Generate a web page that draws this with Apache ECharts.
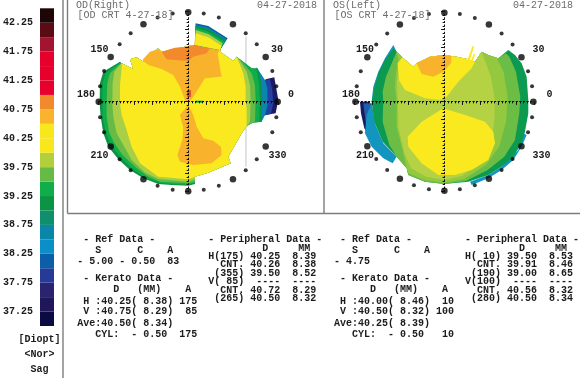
<!DOCTYPE html>
<html>
<head>
<meta charset="utf-8">
<style>html,body{margin:0;padding:0;background:#fff;overflow:hidden}#c{width:580px;height:378px;filter:blur(0.4px)}</style>
<script src="https://cdn.jsdelivr.net/npm/echarts@6/dist/echarts.min.js"></script>
</head>
<body>
<div id="c"></div>
<script>
// ---- colour scale (diopters, 0.25 per cell, bottom to top)
const scaleColors = ['#0b0a42','#201758','#2a2470','#263a98','#0a5fa8','#0a8fc8','#0a86a8','#0f8f6e','#0b9444','#0fae4b','#66bb46','#b2cf3c','#f8e71c','#f8e71c','#f9b32c','#f08a2c','#e8002d','#e8002d','#e8002d','#a3142e','#5c0a14','#1e0508'];
const scaleMin = 37, scaleStep = 0.25;

// ---- ring marks, degrees
const ringSmall = [10,20,40,50,70,80,100,110,130,140,160,170,190,200,220,230,250,260,280,290,310,320,340,350];
const ringBig = [0,30,60,90,120,150,180,210,240,270,300,330];

// ---- OD map contours [x, y]
const odTop = [[-200,115],[-165,98],[-175,127],[-155,133],[-135,120],[-92,160],[-78,150],[0,167],[20,170],[95,155],[100,147],[135,122],[145,135]];
const odLower = [[175,-73],[160,-95],[120,-165],[127,-185],[60,-213],[20,-225]];
const odNavy = [[232,67],[258,73],[263,45],[270,5],[262,-35],[230,-40],[220,5]];
const odBlue = [[230,65],[245,67],[252,35],[255,-5],[248,-37],[222,-43],[210,5]];
const odTeal = [[205,103],[230,65],[237,40],[238,-10],[230,-40],[220,-60],[205,-62],[190,5]];
const odDarkR = [[190,100],[208,100],[220,55],[222,5],[220,-60],[193,-63]];
const odDarkL = [[20,-247],[0,-252],[-50,-250],[-90,-247],[-135,-230],[-175,-205],[-210,-173],[-240,-135],[-255,-95],[-263,-45],[-266,-5],[-265,55],[-255,90],[-205,120]];
const odGreenR = [[190,100],[205,95],[212,55],[215,5],[213,-60],[193,-63]];
const odGreenL = [[20,-243],[0,-250],[-80,-245],[-130,-228],[-170,-200],[-205,-165],[-232,-130],[-248,-90],[-257,-45],[-258,-5],[-257,55],[-248,85],[-205,117]];
const odMidR = [[165,115],[190,85],[200,50],[202,5],[200,-60],[193,-63]];
const odMidL = [[20,-240],[0,-245],[-85,-240],[-125,-222],[-160,-195],[-197,-160],[-222,-125],[-238,-90],[-245,-45],[-245,-5],[-243,55],[-235,85],[-205,113]];
const odLightR = [[150,130],[175,90],[185,50],[187,5],[185,-60],[178,-70]];
const odLightL = [[20,-233],[0,-240],[-90,-232],[-130,-213],[-170,-175],[-195,-130],[-215,-95],[-225,-45],[-228,-5],[-227,55],[-222,90],[-205,110]];
const odYellowR = [[145,135],[165,85],[172,45],[172,5],[175,-20],[175,-70]];
const odYellowL = [[20,-225],[0,-233],[-90,-225],[-145,-185],[-170,-135],[-185,-85],[-200,-40],[-205,-5],[-205,50],[-200,100]];
const odFanArcs = [
  ['#0a5fa8',[[22,235],[60,227],[118,190]]],
  ['#0a86a8',[[22,231],[60,222],[115,187]]],
  ['#0b9444',[[22,227],[60,217],[112,183]]],
  ['#0fae4b',[[22,222],[60,210],[108,180]]],
  ['#a8cf45',[[22,215],[60,203],[103,175]]],
  ['#fbe91f',[[22,205],[60,193],[100,168]]]
];
const odOrangeTop = [[-138,125],[-115,150],[-90,158],[-80,148],[-40,160],[0,165],[18,170],[20,193],[70,180],[95,155],[88,145],[100,75],[95,75],[50,70],[15,15],[0,-5],[-10,5],[-25,45],[-45,80],[-80,98],[-120,110]];
const odOrangeDeep = [[-80,150],[-40,162],[0,165],[20,170],[20,185],[45,180],[65,160],[55,145],[15,135],[0,122],[-40,125],[-65,127]];
const odOrangeLow = [[0,-10],[-25,-40],[-15,-80],[-18,-115],[-33,-160],[-25,-180],[15,-190],[70,-185],[100,-160],[98,-135],[75,-117],[45,-110],[25,-75],[15,-40]];
const odRedSpot = [[-4,14],[8,14],[8,35],[-4,35]];
const odGreenSpot = [[20,-3],[45,-3],[45,3],[20,3]];

// ---- OS map contours [x, y]
const osNavy = [[-253,0],[-223,0],[-223,-40],[-213,-95],[-228,-100],[-240,-80],[-250,-35]];
const osBlue = [[-243,-5],[-218,-5],[-205,-90],[-190,-125],[-208,-135],[-225,-105],[-235,-65]];
const osTealLow = [[-218,-5],[-208,-65],[-183,-125],[-143,-165],[-155,-185],[-183,-170],[-218,-135],[-238,-95],[-233,-40]];
const osTealTop = [[-153,170],[-178,130],[-198,90],[-213,45],[-218,0],[-208,0],[-198,45],[-178,100],[-158,140],[-143,150]];
const osTealRight = [[82,-250],[132,-230],[172,-205],[207,-175],[232,-135],[247,-100],[237,-95],[222,-145],[172,-195],[132,-220],[77,-240]];
const osTop = [[162,130],[132,140],[112,150],[92,120],[72,127],[37,135],[0,140],[-43,135],[-83,115],[-93,105],[-126,133],[-143,150]];
const osDark = [[-153,160],[-178,125],[-198,85],[-210,40],[-218,0],[-210,-60],[-185,-120],[-143,-165],[-113,-200],[-108,-220],[-58,-240],[0,-247],[72,-240],[132,-220],[172,-195],[207,-165],[232,-125],[242,-90],[252,-35],[252,5],[247,75],[232,115],[212,140],[192,155]];
const osMid = [[-183,0],[-185,-60],[-165,-130],[-143,-165],[-113,-200],[-108,-220],[-58,-240],[0,-247],[65,-238],[130,-205],[180,-165],[212,-115],[225,-35],[228,15],[215,90],[195,135],[185,145]];
const osMidEnd = [[-175,75],[-185,30]];
const osSoft = [[-143,5],[-143,-75],[-125,-145],[-113,-200],[-108,-215],[-58,-236],[0,-243],[60,-232],[125,-190],[165,-135],[185,-60],[190,15],[178,90],[160,125]];
const osSoftEnd = [[-138,125],[-145,85],[-148,40]];
const osPale = [[-140,5],[-138,-75],[-120,-155],[-100,-200],[-55,-225],[0,-235],[55,-222],[110,-180],[140,-125],[150,-60],[152,5],[140,75],[125,115],[112,150]];
const osPaleTop = [[92,120],[72,127],[37,135],[0,140],[-43,135],[-83,115],[-93,105],[-126,133],[-135,110],[-142,60]];
const osYellowTop = [[-140,115],[-126,133],[-93,105],[-83,115],[-43,135],[0,140],[37,135],[72,127],[92,120],[82,100],[42,60],[7,15],[-13,5],[-58,10],[-118,35],[-136,65]];
const osOrange = [[-83,115],[-43,135],[0,140],[22,137],[20,115],[-3,90],[-33,75],[-68,83]];
const osSliverA = [[70,127],[85,168],[89,165],[77,125]];
const osSliverB = [[80,123],[89,145],[92,142],[85,120]];
const osYellowLow = [[-3,-20],[62,-40],[122,-60],[147,-90],[152,-125],[132,-175],[82,-205],[32,-220],[-18,-220],[-68,-185],[-108,-135],[-110,-105],[-68,-60]];

// ---- text
const odTitle = ['OD(Right)','[OD CRT 4-27-18]'], osTitle = ['OS(Left)','[OS CRT 4-27-18]'], examDate = '04-27-2018';
const odRef = [' - Ref Data -','   S      C    A','- 5.00 - 0.50  83'];
const osRef = [' - Ref Data -','   S      C    A','- 4.75'];
const odKer = [' - Kerato Data -','      D   (MM)    A',' H :40.25( 8.38) 175',' V :40.75( 8.29)  85','Ave:40.50( 8.34)','   CYL:  - 0.50  175'];
const osKer = [' - Kerato Data -','      D   (MM)    A',' H :40.00( 8.46)  10',' V :40.50( 8.32) 100','Ave:40.25( 8.39)','   CYL:  - 0.50   10'];
const odPer = ['- Peripheral Data -','         D     MM','H(175) 40.25  8.39','  CNT. 40.26  8.38',' (355) 39.50  8.52','V( 85)  ----  ----','  CNT. 40.72  8.29',' (265) 40.50  8.32'];
const osPer = ['- Peripheral Data -','         D     MM','H( 10) 39.50  8.53','  CNT. 39.91  8.46',' (190) 39.00  8.65','V(100)  ----  ----','  CNT. 40.56  8.32',' (280) 40.50  8.34'];
const odAngles = [['150',99.5,49],['30',277,49],['180',86,94],['0',291,94],['210',99.5,155.5],['330',277.5,155.5]];
const osAngles = [['150',365,49],['30',538.5,49],['180',351,94],['0',549.5,94],['210',365,155],['330',541.5,155]];
const scaleNotes = [['[Diopt]',339],['<Nor>',354],['Sag',369]];

// ---- layers, back to front
const odLayers = [
  ['#1b1b63',odNavy],['#2540a0',odBlue],['#0a86b0',odTeal],
  ['#0b9444',[...odTop,...odDarkR,...odLower,...odDarkL]],
  ['#0fae4b',[...odTop,...odGreenR,...odLower,...odGreenL]],
  ['#66bb46',[...odTop,...odMidR,...odLower,...odMidL]],
  ['#a8cf45',[...odTop,...odLightR,...odLower,...odLightL]],
  ['#fbe91f',[...odTop,...odYellowR,...odLower,...odYellowL]],
  ['#f9b22c',odOrangeTop],['#f28a2c',odOrangeDeep],['#f9b22c',odOrangeLow],['#e0562c',odRedSpot],['#0fae4b',odGreenSpot]
];
const odFanLayers = odFanArcs.map(([c,arc]) => [c,[[20,170],...arc,[95,155]]]);
const osLayers = [
  ['#1b1b63',osNavy],['#1f5fa8',osBlue],['#1296c0',osTealLow],['#1296c0',osTealTop],['#1296c0',osTealRight],
  ['#0b9a50',[...osDark,...osTop]],
  ['#6cbd45',[...osMid,...osTop,...osMidEnd]],
  ['#93c83f',[...osSoft,...osTop,...osSoftEnd]],
  ['#b5d144',[...osPale,...osPaleTop]],
  ['#fbe91f',osYellowTop],['#f9b22c',osOrange],['#fbe91f',osSliverA],['#fbe91f',osSliverB],['#fbe91f',osYellowLow]
];

const chart = echarts.init(document.getElementById('c'), null, {renderer:'canvas'});
const MONO = '"Liberation Mono","DejaVu Sans Mono",monospace';
const INK = '#1c1c1c', GREY = '#6c6c6c';

function mapSeries(layers, axisIndex, z){
  return {
    type:'custom', xAxisIndex:axisIndex, yAxisIndex:axisIndex, coordinateSystem:'cartesian2d',
    data:layers.map((l,i) => [0,0,i]), clip:false, silent:true, animation:false, z,
    encode:{x:0,y:1},
    renderItem(p, api){
      const l = layers[p.dataIndex];
      return {type:'polygon', shape:{points:l[1].map(q => api.coord(q))}, style:{fill:l[0], stroke:null}};
    }
  };
}
function ringSeries(polarIndex, angles, size){
  return {type:'scatter', coordinateSystem:'polar', polarIndex, data:angles.map(a => [1,a]),
    symbol:'circle', symbolSize:size, itemStyle:{color:'#050505'}, silent:true, animation:false, z:6, clip:false};
}
function crossAxis(grid, inner, pos){
  return {
    type:'value', gridIndex:grid, min:-270, max:270, interval:54, position:pos, z:10, silent:true,
    axisLine:{show:true, onZero:true, lineStyle:{color:'#101010', width:1, type:[1,2.6]}},
    axisTick:{show:true, inside:inner, length:3, lineStyle:{color:'#101010', width:1}},
    minorTick:{show:true, splitNumber:5, length:1.5, lineStyle:{color:'#101010', width:1}},
    axisLabel:{show:false}, splitLine:{show:false}
  };
}
function textBlock(lines, x, ys){
  return lines.map((t,i) => ({type:'text', silent:true, z:20, style:{
    text:t, x, y:ys[i], fill:INK, font:`bold 10px ${MONO}`, textVerticalAlign:'middle', textAlign:'left'}}));
}
const refYs = [239.7,250.7,261.7], kerYs = [278.3,289.3,301,311.7,323.3,334.3], perYs = [239.7,248.3,256,264.7,273.3,281.7,290,298.3];
function angleLabels(list){ return list.map(([t,x,y]) => ({type:'text', silent:true, z:20, style:{text:t,x,y,fill:INK,font:`bold 10px ${MONO}`,textAlign:'center',textVerticalAlign:'middle'}})); }
function headText(t,x,y){ return {type:'text', silent:true, z:20, style:{text:t,x,y,fill:GREY,font:`10px ${MONO}`,textAlign:'left',textVerticalAlign:'middle'}}; }
function rule(x1,y1,x2,y2){ return {type:'line', silent:true, z:1, shape:{x1,y1,x2,y2}, style:{stroke:'#7d7d7d', lineWidth:1.4}}; }

chart.setOption({
  backgroundColor:'#fff',
  animation:false,
  grid:[
    {left:98.3, top:11.7, width:180, height:180},
    {left:354.3, top:11.7, width:180, height:180},
    {left:39, top:8.3, width:15, height:317.7}
  ],
  xAxis:[
    crossAxis(0,false,'bottom'), crossAxis(0,true,'top'),
    crossAxis(1,false,'bottom'), crossAxis(1,true,'top'),
    {type:'value', gridIndex:2, min:0, max:1, show:false}
  ],
  yAxis:[
    crossAxis(0,false,'left'), crossAxis(0,true,'right'),
    crossAxis(1,false,'left'), crossAxis(1,true,'right'),
    {type:'value', gridIndex:2, min:scaleMin, max:scaleMin+scaleStep*scaleColors.length, interval:scaleStep,
     axisLine:{show:false}, axisTick:{show:false}, splitLine:{show:false},
     axisLabel:{show:true, margin:7, color:INK, fontFamily:MONO, fontWeight:'bold', fontSize:10,
       formatter:v => Math.abs(((v-37.25)/0.5) - Math.round((v-37.25)/0.5)) < 1e-6 ? v.toFixed(2) : ''}}
  ],
  polar:[{center:[188.2,101.7], radius:89.5},{center:[444.4,101.7], radius:89}],
  angleAxis:[0,1].map(i => ({polarIndex:i, type:'value', min:0, max:360, startAngle:0, clockwise:false, show:false})),
  radiusAxis:[0,1].map(i => ({polarIndex:i, type:'value', min:0, max:1, show:false})),
  series:[
    {type:'line', xAxisIndex:0, yAxisIndex:0, data:[[173,195],[173,-195]], symbol:'none', silent:true, z:1,
     lineStyle:{color:'#c4c4c4', width:1}},
    mapSeries(odLayers,0,2),
    mapSeries(osLayers,2,2),
    ringSeries(0,ringSmall,4), ringSeries(0,ringBig,6.5),
    ringSeries(1,ringSmall,4), ringSeries(1,ringBig,6.5),
    {type:'custom', xAxisIndex:4, yAxisIndex:4, coordinateSystem:'cartesian2d', silent:true, animation:false, clip:false,
     data:scaleColors.map((c,i) => [scaleMin+i*scaleStep]), encode:{y:0},
     renderItem(p, api){
       const v = api.value(0);
       const a = api.coord([0,v+scaleStep]), b = api.coord([1,v]);
       return {type:'rect', shape:{x:a[0],y:a[1],width:b[0]-a[0],height:b[1]-a[1]}, style:{fill:scaleColors[p.dataIndex]}};
     }},
    mapSeries(odFanLayers,0,4)
  ],
  graphic:{elements:[
    rule(63,0,63,378), rule(67.5,0,67.5,213.5), rule(67.5,213.5,580,213.5), rule(324,0,324,213.5),
    headText(odTitle[0],76,5), headText(odTitle[1],77.5,15.7), headText(examDate,257,5),
    headText(osTitle[0],333,5), headText(osTitle[1],334.5,15.7), headText(examDate,513,5),
    ...angleLabels(odAngles), ...angleLabels(osAngles),
    ...textBlock(odRef,77.3,refYs), ...textBlock(odKer,77.3,kerYs), ...textBlock(odPer,208.3,perYs),
    ...textBlock(osRef,334,refYs), ...textBlock(osKer,334,kerYs), ...textBlock(osPer,465,perYs),
    ...scaleNotes.map(([t,y]) => ({type:'text', silent:true, z:20, style:{text:t,x:39.5,y,fill:INK,font:`bold 10px ${MONO}`,textAlign:'center',textVerticalAlign:'middle'}}))
  ]}
});
</script>
</body>
</html>
